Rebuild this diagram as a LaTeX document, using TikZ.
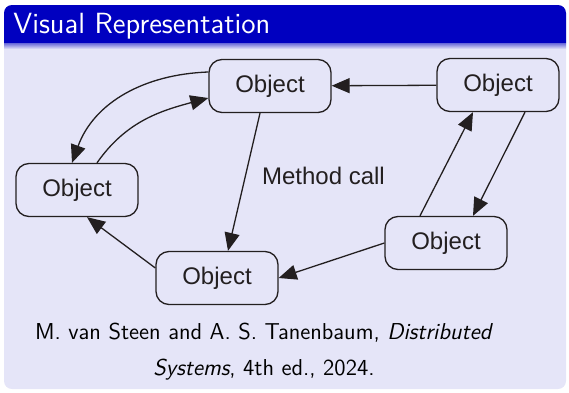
\documentclass[tikz,border=0pt]{standalone}
\usepackage{fontspec}
\newfontfamily\figfont{Liberation Sans}
\usepackage{tikz}
\usetikzlibrary{arrows.meta,positioning,calc}
\definecolor{blocktitle}{RGB}{0,0,192}
\definecolor{blockbody}{RGB}{229,229,248}
\definecolor{ink}{RGB}{35,31,32}

\begin{document}
\begin{tikzpicture}[
  x=0.5pt, y=-0.5pt,
  obj/.style={draw=ink, rounded corners=6.5pt, line width=0.65pt, minimum width=61pt, minimum height=26.5pt, font=\figfont\fontsize{12}{14}\selectfont, text=ink},
  arr/.style={-{Triangle[length=9pt,width=7.5pt]}, line width=0.65pt, draw=ink}
]
\useasboundingbox (0,0) rectangle (569,392);
% block frame
\fill[blockbody, rounded corners=4pt] (4,5) rectangle (566,389);
\fill[blocktitle] (4,43) {[rounded corners=4pt] -- (4,5) -- (566,5)} -- (566,43) -- cycle;
\shade[top color=blocktitle!55!blockbody, bottom color=blockbody] (4,43) rectangle (566,49);
\node[anchor=base west, inner sep=0, text=white, font=\sffamily\fontsize{14.6}{17}\selectfont] (title) at (13,33) {Visual Representation};

% objects
\node[obj] (top) at (270,86) {Object};
\node[obj] (ne) at (498,85) {Object};
\node[obj] (left) at (77,190) {Object};
\node[obj] (bottom) at (217,278) {Object};
\node[obj] (right) at (446,243) {Object};
\node[anchor=west, font=\figfont\fontsize{12}{14}\selectfont, text=ink] (call) at (255,176) {Method call};

\draw[arr] (ne) -- (top);
\draw[arr] ([yshift=7pt]top.west) to[out=182, in=70] ([xshift=-2.5pt]left.north);
\draw[arr] ([xshift=10pt]left.north) to[out=55, in=195] ([yshift=-6pt]top.west);
\draw[arr] ([xshift=-5pt]top.south) -- ([xshift=5.5pt]bottom.north);
\draw[arr] ([yshift=5pt]bottom.west) -- ([xshift=5pt]left.south);
\draw[arr] (right.west) -- (bottom.east);
\draw[arr] ([xshift=-13pt]right.north) -- ([xshift=-12.5pt]ne.south);
\draw[arr] ([xshift=13.5pt]ne.south) -- ([xshift=13.5pt]right.north);

% reference
\node[align=center, font=\sffamily\fontsize{11.5}{18}\selectfont] (cite) at (264,352)
  {M. van Steen and A. S. Tanenbaum, \textit{Distributed}\\\textit{Systems}, 4th ed., 2024.};
\end{tikzpicture}
\end{document}
